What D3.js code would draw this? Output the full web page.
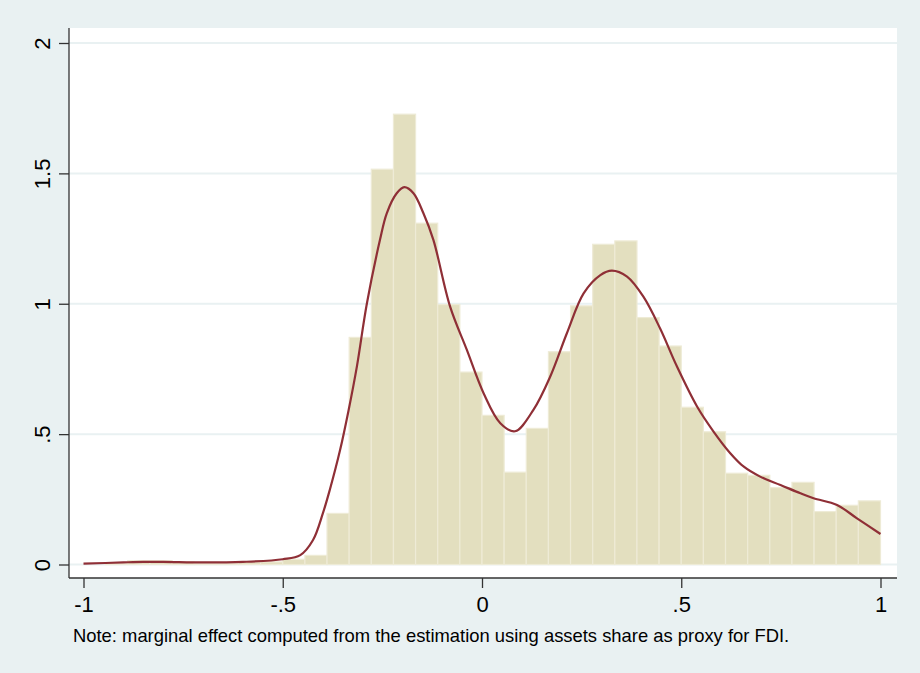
<!DOCTYPE html>
<html>
<head>
<meta charset="utf-8">
<script src="https://cdn.jsdelivr.net/npm/d3@7"></script>
<style>
  html, body { margin: 0; padding: 0; background: #e9f1f2; }
  svg { display: block; }
</style>
</head>
<body>
<script>
// histogram: 36 bins on [-1, 1]
var binStart = -1, binEnd = 1;
var heights = [0, 0.005, 0.015, 0.015, 0.01, 0.005, 0.005, 0.01, 0.01, 0.02,
  0.035, 0.196, 0.871, 1.516, 1.727, 1.309, 0.997, 0.738, 0.572, 0.354,
  0.522, 0.816, 0.992, 1.228, 1.241, 0.947, 0.838, 0.603, 0.509, 0.350,
  0.342, 0.295, 0.315, 0.203, 0.227, 0.244];

// kernel density
var densX = [-1, -0.9, -0.85, -0.8, -0.7, -0.6, -0.5, -0.456, -0.424, -0.399, -0.382,
  -0.356, -0.335, -0.314, -0.289, -0.256, -0.239, -0.214, -0.195, -0.172, -0.147,
  -0.122, -0.080, -0.038, 0.004, 0.046, 0.083, 0.129, 0.171, 0.213, 0.255, 0.297,
  0.326, 0.364, 0.405, 0.447, 0.489, 0.540, 0.581, 0.623, 0.657, 0.698, 0.749,
  0.799, 0.832, 0.891, 0.941, 1.0];
var densY = [0.003, 0.008, 0.01, 0.01, 0.008, 0.01, 0.02, 0.036, 0.094, 0.198, 0.286,
  0.44, 0.59, 0.759, 1.0, 1.245, 1.347, 1.424, 1.447, 1.424, 1.347,
  1.245, 0.989, 0.823, 0.657, 0.542, 0.511, 0.593, 0.72, 0.887, 1.04, 1.11,
  1.127, 1.104, 1.027, 0.905, 0.76, 0.605, 0.51, 0.427, 0.375, 0.337, 0.305,
  0.273, 0.254, 0.228, 0.177, 0.117];

var xTicks = [-1, -0.5, 0, 0.5, 1];
var xTickLabels = ["-1", "-.5", "0", ".5", "1"];
var yTicks = [0, 0.5, 1, 1.5, 2];
var yTickLabels = ["0", ".5", "1", "1.5", "2"];
var note = "Note: marginal effect computed from the estimation using assets share as proxy for FDI.";

var W = 920, H = 673;
var region = {left: 69, top: 28, right: 897, bottom: 578};
var font = "Arial, 'Liberation Sans', sans-serif";

var x = d3.scaleLinear().domain([-1, 1]).range([83.5, 880.5]);
var y = d3.scaleLinear().domain([0, 2]).range([564.5, 43]);

var svg = d3.select("body").append("svg")
  .attr("width", W)
  .attr("height", H)
  .style("font-family", font);

svg.append("rect")
  .attr("width", W).attr("height", H)
  .attr("fill", "#e9f1f2");

// plot region
svg.append("rect")
  .attr("x", region.left).attr("y", region.top)
  .attr("width", region.right - region.left)
  .attr("height", region.bottom - region.top)
  .attr("fill", "#ffffff");

// grid
svg.append("g").selectAll("line").data(yTicks).enter()
  .append("line")
  .attr("x1", region.left).attr("x2", region.right)
  .attr("y1", d => y(d)).attr("y2", d => y(d))
  .attr("stroke", "#e9f1f2")
  .attr("stroke-width", 2);

// bars
var bw = (binEnd - binStart) / heights.length;
var bins = heights.map((h, i) => ({x0: binStart + i * bw, x1: binStart + (i + 1) * bw, h: h}));

svg.append("g").selectAll("rect").data(bins).enter()
  .append("rect")
  .attr("x", d => x(d.x0))
  .attr("y", d => y(d.h))
  .attr("width", d => x(d.x1) - x(d.x0))
  .attr("height", d => y(0) - y(d.h))
  .attr("fill", "#e3dfbf")
  .attr("stroke", "#eeebd6")
  .attr("stroke-width", 1.2);

// density line
var pts = densX.map((v, i) => [v, densY[i]]);
svg.append("path")
  .datum(pts)
  .attr("d", d3.line().x(d => x(d[0])).y(d => y(d[1])).curve(d3.curveCatmullRom.alpha(0.5)))
  .attr("fill", "none")
  .attr("stroke", "#8f2f36")
  .attr("stroke-width", 2.2);

// axes
var xAxis = d3.axisBottom(x)
  .tickValues(xTicks)
  .tickFormat((d, i) => xTickLabels[i])
  .tickSize(10)
  .tickPadding(8);

var gx = svg.append("g")
  .attr("transform", "translate(0," + region.bottom + ")")
  .call(xAxis);
gx.select(".domain").attr("d", "M" + region.left + ",0H" + region.right);

var yAxis = d3.axisLeft(y)
  .tickValues(yTicks)
  .tickFormat((d, i) => yTickLabels[i])
  .tickSize(10)
  .tickPadding(8);

var gy = svg.append("g")
  .attr("transform", "translate(" + region.left + ",0)")
  .call(yAxis);
gy.select(".domain").attr("d", "M0," + region.top + "V" + region.bottom);

svg.selectAll(".domain").attr("stroke", "#333").attr("stroke-width", 1.3);
svg.selectAll(".tick line").attr("stroke", "#333").attr("stroke-width", 1.3);
svg.selectAll(".tick text")
  .style("font-size", "22px")
  .style("font-family", font)
  .attr("fill", "#000");

gy.selectAll(".tick text")
  .attr("text-anchor", "middle")
  .attr("x", 0)
  .attr("y", 0)
  .attr("dy", "0em")
  .attr("transform", "translate(-19,0) rotate(-90)");

// note
svg.append("text")
  .attr("x", 73)
  .attr("y", 642)
  .style("font-size", "18.4px")
  .attr("fill", "#000")
  .text(note);
</script>
</body>
</html>
